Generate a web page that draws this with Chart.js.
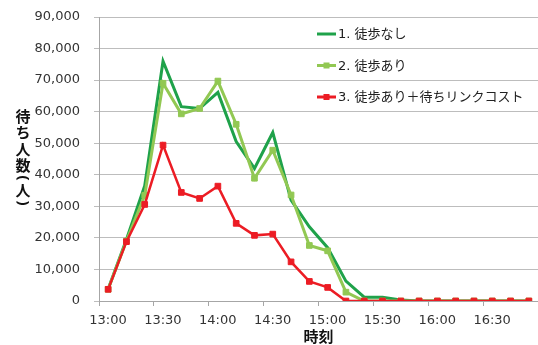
<!DOCTYPE html>
<html>
<head>
<meta charset="utf-8">
<script src="https://cdn.jsdelivr.net/npm/chart.js@4/dist/chart.umd.min.js"></script>
<style>
  html, body { margin: 0; padding: 0; background: #fff; }
  #wrap { width: 538px; height: 345px; }
</style>
</head>
<body>
<div id="wrap"><canvas id="c" width="538" height="345"></canvas></div>
<script>
// Sample times (10-minute intervals)
const times = ['13:05','13:15','13:25','13:35','13:45','13:55','14:05','14:15','14:25','14:35','14:45','14:55',
               '15:05','15:15','15:25','15:35','15:45','15:55','16:05','16:15','16:25','16:35','16:45','16:55'];

// Waiting people per scenario
const seriesNames = ['1. 徒歩なし', '2. 徒歩あり', '3. 徒歩あり＋待ちリンクコスト'];
const noWalk = [3800, 19500, 36500, 76000, 61600, 61000, 66100, 50500, 42000, 53400, 32000, 23500,
                16900, 6300, 1200, 1200, 300, 0, 0, 0, 0, 0, 0, 0];
const withWalk = [3700, 19000, 33500, 69000, 59300, 61000, 69700, 56000, 38900, 47800, 33600, 17600,
                  15900, 2800, 0, 0, 0, 0, 0, 0, 0, 0, 0, 0];
const withWalkLinkCost = [3700, 18800, 30600, 49400, 34400, 32500, 36400, 24600, 20800, 21200, 12400, 6200,
                          4300, 0, 0, 0, 0, 0, 0, 0, 0, 0, 0, 0];

// Axis ranges
const yMax = 90000, yStep = 10000;
const xStartHour = 13, xSpanMin = 240, xStepMin = 30;
const yTitle = ['待', 'ち', '人', '数', '(', '人', ')'];
const xTitle = '時刻';

const toMin = t => { const [h, m] = t.split(':').map(Number); return (h - xStartHour) * 60 + m; };
const pts = arr => arr.map((v, i) => ({ x: toMin(times[i]), y: v }));
const fmtTime = m => { const h = xStartHour + Math.floor(m / 60), mm = m % 60; return h + ':' + String(mm).padStart(2, '0'); };

const TICK_FONT = '"DejaVu Sans", "Noto Sans CJK JP", sans-serif';
const CJK_FONT = '"Noto Sans CJK JP", sans-serif';

// Legend drawn inside the plot area, one row per series
const innerLegend = {
  id: 'innerLegend',
  afterDraw(chart) {
    const ctx = chart.ctx;
    ctx.save();
    chart.data.datasets.forEach((ds, i) => {
      const y = 34 + i * 31.5;
      const x0 = 317, x1 = 336;
      ctx.strokeStyle = ds.borderColor;
      ctx.lineWidth = 3;
      ctx.beginPath(); ctx.moveTo(x0, y); ctx.lineTo(x1, y); ctx.stroke();
      if (ds.pointRadius > 0) {
        ctx.fillStyle = ds.borderColor;
        ctx.fillRect((x0 + x1) / 2 - 3, y - 3, 6, 6);
      }
      ctx.fillStyle = '#222';
      ctx.font = '13px ' + TICK_FONT;
      ctx.textAlign = 'left';
      ctx.textBaseline = 'middle';
      ctx.fillText(ds.label, x1 + 2, y + 1);
    });
    ctx.restore();
  }
};

// Vertical stacked y-axis title with turned parentheses
const stackedYTitle = {
  id: 'stackedYTitle',
  afterDraw(chart) {
    const ctx = chart.ctx;
    ctx.save();
    ctx.fillStyle = '#111';
    ctx.font = 'bold 15px ' + CJK_FONT;
    ctx.textAlign = 'center';
    ctx.textBaseline = 'middle';
    const isParen = c => c === '(' || c === ')';
    let y = 116;
    const x = 23;
    yTitle.forEach((c, i) => {
      if (isParen(c)) {
        ctx.save();
        ctx.translate(x, y);
        ctx.rotate(Math.PI / 2);
        ctx.font = 'bold 15px "Noto Sans", sans-serif';
        ctx.fillText(c, 0, 0);
        ctx.restore();
      } else {
        ctx.fillText(c, x, y);
      }
      const next = yTitle[i + 1];
      y += (isParen(c) || (next && isParen(next))) ? 12.5 : 16.5;
    });
    ctx.restore();
  }
};

new Chart(document.getElementById('c'), {
  type: 'line',
  data: {
    datasets: [
      { label: seriesNames[0], data: pts(noWalk), borderColor: '#1fa24a', backgroundColor: '#1fa24a',
        borderWidth: 3, pointRadius: 0, order: 3 },
      { label: seriesNames[1], data: pts(withWalk), borderColor: '#92c853', backgroundColor: '#92c853',
        borderWidth: 3, pointRadius: 4, pointStyle: 'rect', pointBorderWidth: 1, order: 2 },
      { label: seriesNames[2], data: pts(withWalkLinkCost), borderColor: '#ec1c24', backgroundColor: '#ec1c24',
        borderWidth: 2.5, pointRadius: 4, pointStyle: 'rect', pointBorderWidth: 1, order: 1 }
    ]
  },
  options: {
    responsive: false,
    animation: false,
    devicePixelRatio: 1,
    layout: { autoPadding: false, padding: { top: 17, right: 0, bottom: 0, left: 0 } },
    elements: { line: { tension: 0 } },
    plugins: { legend: { display: false }, tooltip: { enabled: false } },
    scales: {
      x: {
        type: 'linear',
        min: 0, max: xSpanMin,
        afterFit: s => { s.height = 44; s.paddingLeft = 0; s.paddingRight = 0; },
        ticks: {
          stepSize: xStepMin,
          autoSkip: false,
          maxRotation: 0,
          padding: 7,
          labelOffset: 9,
          color: '#333',
          font: { family: TICK_FONT, size: 13 },
          callback: v => (v >= xSpanMin ? null : fmtTime(v))
        },
        grid: { drawOnChartArea: false, drawTicks: true, tickLength: 5, color: '#a6a6a6' },
        border: { display: true, color: '#a6a6a6', width: 1 },
        title: { display: true, text: xTitle, color: '#111', padding: { top: 0, bottom: 0 },
                 font: { family: CJK_FONT, size: 15, weight: 'bold' } }
      },
      y: {
        min: 0, max: yMax,
        afterFit: s => { s.width = 99; s.paddingTop = 0; s.paddingBottom = 0; },
        ticks: {
          stepSize: yStep,
          padding: 14,
          color: '#333',
          font: { family: TICK_FONT, size: 13 },
          callback: v => v.toLocaleString('en-US')
        },
        grid: { color: '#bdbdbd', tickLength: 5, drawTicks: true },
        border: { display: true, color: '#a6a6a6', width: 1 }
      }
    }
  },
  plugins: [innerLegend, stackedYTitle]
});
</script>
</body>
</html>
